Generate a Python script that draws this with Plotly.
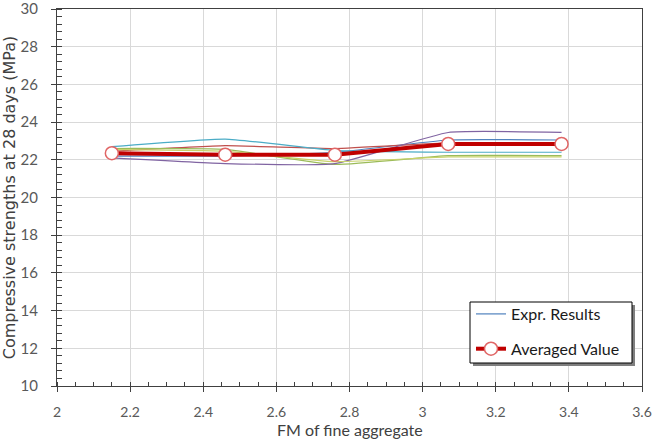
import plotly.graph_objects as go

fm = [2.15, 2.46, 2.76, 3.07, 3.38]
expr_blue = [22.2, 22.2, 22.4, 23.05, 23.05]
expr_red = [22.45, 22.75, 22.6, 22.9, 22.9]
expr_green = [22.6, 22.55, 21.75, 22.22, 22.22]
expr_purple = [22.1, 21.8, 21.8, 23.45, 23.45]
expr_aqua = [22.7, 23.1, 22.5, 22.4, 22.4]
expr_yellow = [22.55, 22.45, 21.9, 22.15, 22.15]
averaged = [22.35, 22.27, 22.27, 22.84, 22.84]

series = [
    ("#4F81BD", expr_blue),
    ("#C0504D", expr_red),
    ("#9BBB59", expr_green),
    ("#8064A2", expr_purple),
    ("#4BACC6", expr_aqua),
    ("#C8D26A", expr_yellow),
]

fig = go.Figure()
for i, (col, vals) in enumerate(series):
    fig.add_trace(go.Scatter(
        x=fm, y=vals, mode="lines",
        line=dict(color=col, width=1.2, shape="spline", smoothing=0.4),
        name="Expr. Results", showlegend=(i == 0), legendgroup="expr",
    ))

fig.add_trace(go.Scatter(
    x=fm, y=averaged, mode="lines+markers", name="Averaged Value",
    legendgroup="avg",
    line=dict(color="#C00000", width=4),
    marker=dict(size=13, color="white", line=dict(color="#E06666", width=1.5)),
))

axis_common = dict(
    showline=True, linecolor="#404040", linewidth=1, mirror=True,
    showgrid=True, gridcolor="#D9D9D9", gridwidth=1,
    zeroline=False, ticks="outside", ticklen=5, tickcolor="#404040",
    automargin=False, ticklabeloverflow="allow",
)

fig.update_xaxes(
    range=[2, 3.6], dtick=0.2, tick0=2, tickformat="~g",
    minor=dict(dtick=0.05, ticks="inside", ticklen=4, tickcolor="#404040", showgrid=False),
    tickfont=dict(family="Lato", size=14, color="#595959"),
    ticklabelstandoff=8,
    **axis_common,
)
fig.update_yaxes(
    range=[10, 30], dtick=2, tick0=10,
    minor=dict(dtick=0.4, ticks="inside", ticklen=5, tickcolor="#404040", showgrid=False),
    tickfont=dict(family="Lato", size=15, color="#595959"),
    title=dict(text="Compressive strengths at 28 days (MPa)",
               font=dict(family="DejaVu Sans", size=16, color="#404040"), standoff=6),
    ticklabelstandoff=10,
    **axis_common,
)

W, H = 654, 439
L, R, T, B = 57, 12, 9, 53
pw, ph = W - L - R, H - T - B


def px_x(v):
    return (v - L) / pw


def px_y(v):
    return (H - B - v) / ph


# x-axis title
fig.add_annotation(text="FM of fine aggregate", xref="paper", yref="paper",
                   x=0.5, y=px_y(429), xanchor="center", yanchor="middle",
                   showarrow=False, font=dict(family="Lato", size=16, color="#404040"))

# legend shadow and box
fig.add_shape(type="rect", xref="paper", yref="paper",
              x0=px_x(473), x1=px_x(635), y0=px_y(366), y1=px_y(305),
              fillcolor="#7F7F7F", line=dict(width=0), layer="above")
fig.add_shape(type="rect", xref="paper", yref="paper",
              x0=px_x(470), x1=px_x(632), y0=px_y(363), y1=px_y(302),
              fillcolor="white", line=dict(width=1, color="#000000"), layer="above")

fig.update_layout(
    width=W, height=H,
    margin=dict(l=L, r=R, t=T, b=B),
    paper_bgcolor="white", plot_bgcolor="white",
    legend=dict(
        x=px_x(471), y=px_y(297), xanchor="left", yanchor="top",
        bgcolor="rgba(0,0,0,0)", borderwidth=0,
        font=dict(family="Lato", size=16, color="#1a1a1a"),
        traceorder="grouped", tracegroupgap=11, itemwidth=30,
    ),
)

fig.write_html("out.html")
